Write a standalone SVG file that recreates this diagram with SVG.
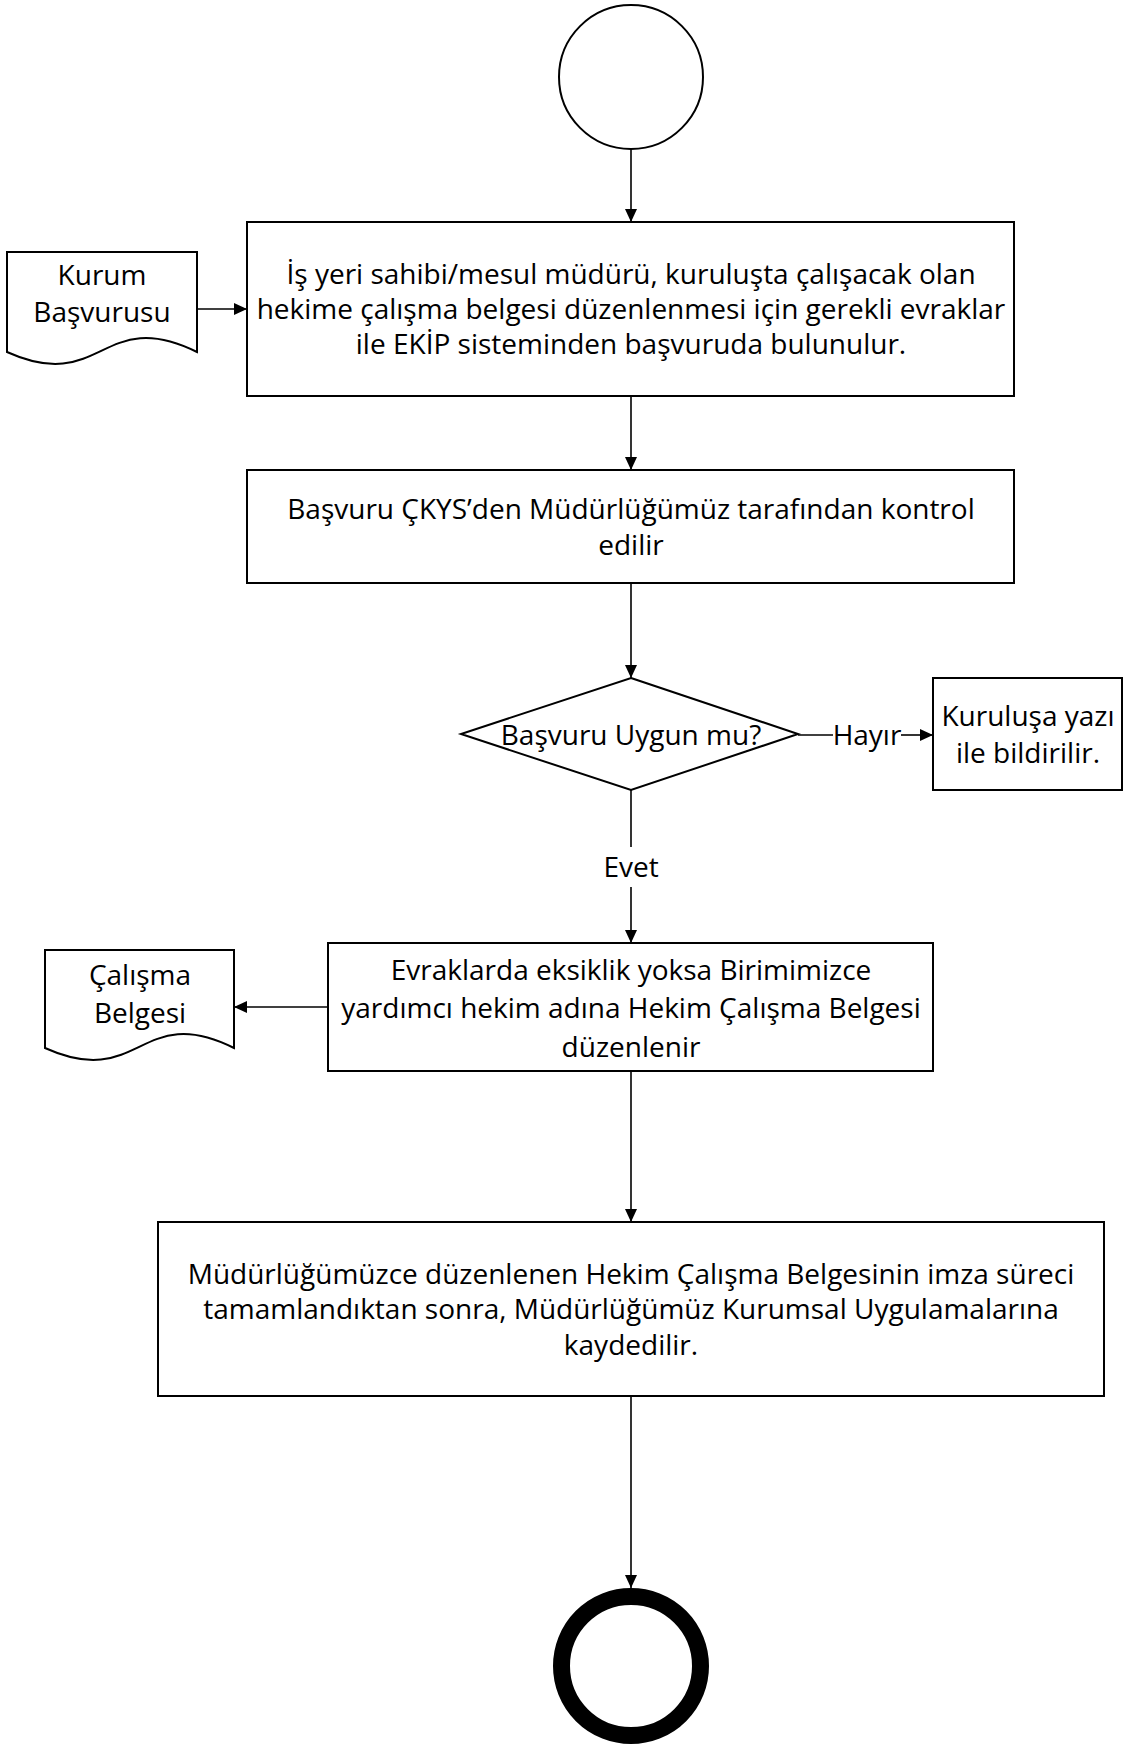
<svg xmlns="http://www.w3.org/2000/svg" width="1130" height="1749" viewBox="0 0 1130 1749">
<style>
.shape{fill:#ffffff;stroke:#000000;stroke-width:2}
.conn{fill:none;stroke:#000000;stroke-width:1.6}
.t{font-family:"Open Sans","Noto Sans","Liberation Sans",sans-serif;font-size:28px;fill:#000000;text-anchor:middle}
</style>
<defs>
<marker id="arr" markerWidth="14" markerHeight="12" refX="13" refY="6" orient="auto" markerUnits="userSpaceOnUse">
<path d="M0,0 L13,6 L0,12 Z" fill="#000000"/>
</marker>
</defs>
<rect width="1130" height="1749" fill="#ffffff"/>
<g id="connectors">
<line class="conn" x1="631" y1="149" x2="631" y2="222" marker-end="url(#arr)"/>
<line class="conn" x1="197" y1="309" x2="247" y2="309" marker-end="url(#arr)"/>
<line class="conn" x1="631" y1="396" x2="631" y2="470" marker-end="url(#arr)"/>
<line class="conn" x1="631" y1="583" x2="631" y2="678" marker-end="url(#arr)"/>
<line class="conn" x1="798" y1="735" x2="833" y2="735"/>
<line class="conn" x1="901" y1="735" x2="933" y2="735" marker-end="url(#arr)"/>
<text class="t" x="867" y="745">Hayır</text>
<line class="conn" x1="631" y1="790" x2="631" y2="847"/>
<line class="conn" x1="631" y1="887" x2="631" y2="943" marker-end="url(#arr)"/>
<text class="t" x="631" y="877">Evet</text>
<line class="conn" x1="328" y1="1007" x2="234" y2="1007" marker-end="url(#arr)"/>
<line class="conn" x1="631" y1="1071" x2="631" y2="1222" marker-end="url(#arr)"/>
<line class="conn" x1="631" y1="1396" x2="631" y2="1588" marker-end="url(#arr)"/>
</g>
<g id="start">
<circle class="shape" cx="631" cy="77" r="72"/>
</g>
<g id="kurum-basvurusu">
<path class="shape" d="M7,252 L197,252 L197,352 C102,305 102,395 7,352 Z"/>
<text class="t" x="102" y="285">Kurum</text>
<text class="t" x="102" y="322">Başvurusu</text>
</g>
<g id="box1">
<rect class="shape" x="247" y="222" width="767" height="174"/>
<text class="t" x="631" y="284">İş yeri sahibi/mesul müdürü, kuruluşta çalışacak olan</text>
<text class="t" x="631" y="319">hekime çalışma belgesi düzenlenmesi için gerekli evraklar</text>
<text class="t" x="631" y="354">ile EKİP sisteminden başvuruda bulunulur.</text>
</g>
<g id="box2">
<rect class="shape" x="247" y="470" width="767" height="113"/>
<text class="t" x="631" y="519">Başvuru ÇKYS’den Müdürlüğümüz tarafından kontrol</text>
<text class="t" x="631" y="555">edilir</text>
</g>
<g id="decision">
<polygon class="shape" points="631,678 798,734 631,790 461,734"/>
<text class="t" x="631" y="745">Başvuru Uygun mu?</text>
</g>
<g id="kurulusa">
<rect class="shape" x="933" y="678" width="189" height="112"/>
<text class="t" x="1028" y="726">Kuruluşa yazı</text>
<text class="t" x="1028" y="763">ile bildirilir.</text>
</g>
<g id="box3">
<rect class="shape" x="328" y="943" width="605" height="128"/>
<text class="t" x="631" y="980">Evraklarda eksiklik yoksa Birimimizce</text>
<text class="t" x="631" y="1018">yardımcı hekim adına Hekim Çalışma Belgesi</text>
<text class="t" x="631" y="1057">düzenlenir</text>
</g>
<g id="calisma-belgesi">
<path class="shape" d="M45,950 L234,950 L234,1048 C140,1001 140,1091 45,1048 Z"/>
<text class="t" x="140" y="985">Çalışma</text>
<text class="t" x="140" y="1023">Belgesi</text>
</g>
<g id="box4">
<rect class="shape" x="158" y="1222" width="946" height="174"/>
<text class="t" x="631" y="1284">Müdürlüğümüzce düzenlenen Hekim Çalışma Belgesinin imza süreci</text>
<text class="t" x="631" y="1319">tamamlandıktan sonra, Müdürlüğümüz Kurumsal Uygulamalarına</text>
<text class="t" x="631" y="1355">kaydedilir.</text>
</g>
<g id="end">
<circle cx="631" cy="1666" r="69.5" fill="#ffffff" stroke="#000000" stroke-width="17"/>
</g>
</svg>
